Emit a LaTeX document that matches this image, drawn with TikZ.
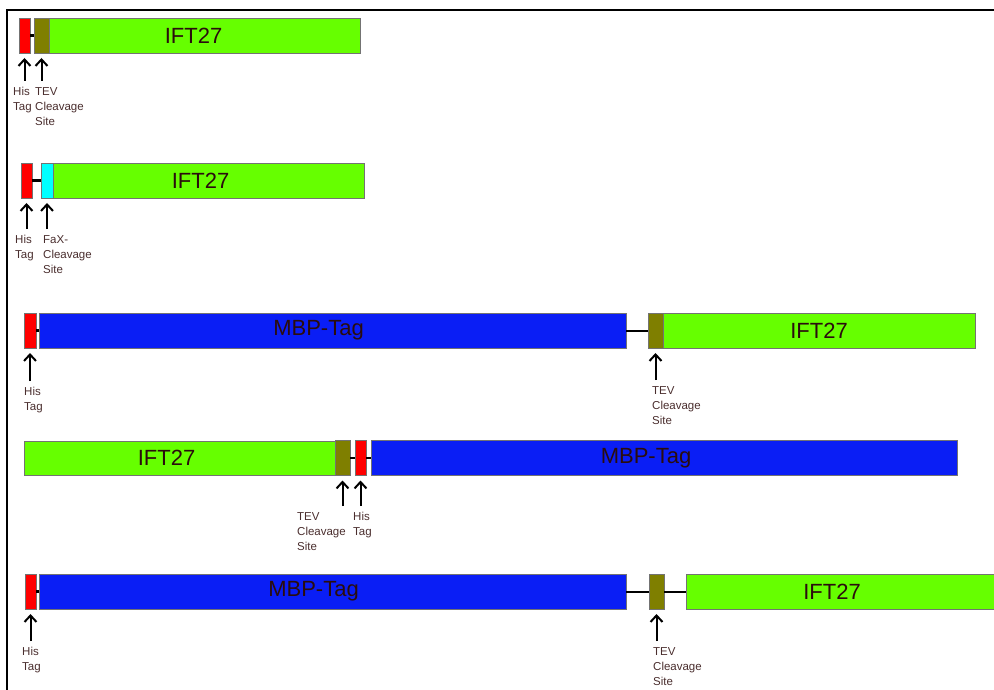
\documentclass[tikz,border=0pt]{standalone}
\usepackage{fontspec}
\setmainfont{Liberation Sans}
\usetikzlibrary{arrows.meta,positioning}
\definecolor{hisred}{HTML}{FF0000}
\definecolor{tevolive}{HTML}{7F7F00}
\definecolor{faxcyan}{HTML}{00FFFF}
\definecolor{iftgreen}{HTML}{66FF00}
\definecolor{mbpblue}{HTML}{0A1EF5}
\definecolor{bartext}{HTML}{2B0D0D}
\definecolor{sitetext}{HTML}{4A2E2E}

\tikzset{
  seg/.style={draw=black!55, line width=0.7pt, rectangle, inner sep=0pt, outer sep=0pt, minimum height=35pt},
  his/.style={seg, fill=hisred, minimum width=11pt},
  tev/.style={seg, fill=tevolive, minimum width=15pt},
  fax/.style={seg, fill=faxcyan, minimum width=12pt},
  ift/.style={seg, fill=iftgreen, minimum width=311pt},
  mbp/.style={seg, fill=mbpblue, minimum width=587pt},
  bartxt/.style={font=\fontsize{22}{26}\selectfont, text=bartext, inner sep=0pt},
  site/.style={font=\fontsize{11.5}{15}\selectfont, text=sitetext, align=left, anchor=north west, inner sep=0pt},
  linker/.style={line width=2.5pt},
  pointer/.style={-{Straight Barb[length=6.5pt,width=12pt]}, line width=2pt, shorten <=6pt, shorten >=5pt}
}

\begin{document}
\begin{tikzpicture}[x=1pt, y=-1pt]
  \clip (0,0) rectangle (994,690);
  % Frame
  \draw[line width=2pt] (6.5,690) -- (6.5,10.5) -- (994,10.5);

  % Construct 1: His - TEV - IFT27
  \node[his, anchor=north west] (his1) at (19,18) {};
  \node[tev, right=4pt of his1] (tev1) {};
  \node[ift, right=0pt of tev1, label={[bartxt, xshift=-11pt]center:IFT27}] (ift1) {};
  \draw[linker] (his1) -- (tev1);
  \node[site] (hl1) at (13,87) {His\\Tag};
  \node[site] (tl1) at (35,87) {TEV\\Cleavage\\Site};
  \draw[pointer] (hl1.north -| his1.south) -- (his1.south);
  \draw[pointer] (tl1.north -| tev1.south) -- (tev1.south);

  % Construct 2: His - FaX - IFT27
  \node[his, anchor=north west] (his2) at (21,163) {};
  \node[fax, right=9pt of his2] (fax2) {};
  \node[ift, right=0pt of fax2, label={[bartxt, xshift=-8pt]center:IFT27}] (ift2) {};
  \draw[linker] (his2) -- (fax2);
  \node[site] (hl2) at (15,235) {His\\Tag};
  \node[site] (fl2) at (43,235) {FaX-\\Cleavage\\Site};
  \draw[pointer] (hl2.north -| his2.south) -- (his2.south);
  \draw[pointer] (fl2.north -| fax2.south) -- (fax2.south);

  % Construct 3: His - MBP - TEV - IFT27
  \node[his, minimum width=12pt, anchor=north west] (his3) at (24,313) {};
  \node[mbp, right=3pt of his3, label={[bartxt, xshift=-14pt]center:MBP-Tag}] (mbp3) {};
  \node[tev, right=22pt of mbp3] (tev3) {};
  \node[ift, minimum width=312pt, right=0pt of tev3, label={[bartxt]center:IFT27}] (ift3) {};
  \draw[linker] (his3) -- (mbp3);
  \draw[line width=2pt] (mbp3) -- (tev3);
  \node[site] (hl3) at (24,387) {His\\Tag};
  \node[site] (tl3) at (652,386) {TEV\\Cleavage\\Site};
  \draw[pointer] (hl3.north -| his3.south) -- (his3.south);
  \draw[pointer] (tl3.north -| tev3.south) -- (tev3.south);

  % Construct 4: IFT27 - TEV - His - MBP
  \node[ift, minimum height=34pt, anchor=north west, label={[bartxt, xshift=-13pt]center:IFT27}] (ift4) at (24,441) {};
  \node[tev, right=0pt of ift4] (tev4) {};
  \node[his, right=5pt of tev4] (his4) {};
  \node[mbp, minimum width=586pt, right=5pt of his4, label={[bartxt, xshift=-18pt]center:MBP-Tag}] (mbp4) {};
  \draw[linker] (tev4) -- (his4);
  \draw[linker] (his4) -- (mbp4);
  \node[site] (tl4) at (297,512) {TEV\\Cleavage\\Site};
  \node[site] (hl4) at (353,512) {His\\Tag};
  \draw[pointer] (tl4.north -| tev4.south) -- (tev4.south);
  \draw[pointer] (hl4.north -| his4.south) -- (his4.south);

  % Construct 5: His - MBP - TEV - linker - IFT27
  \node[his, anchor=north west] (his5) at (25,574) {};
  \node[mbp, right=3pt of his5, label={[bartxt, xshift=-19pt]center:MBP-Tag}] (mbp5) {};
  \node[tev, right=23pt of mbp5] (tev5) {};
  \node[ift, minimum width=320pt, right=22pt of tev5, label={[bartxt, xshift=-14pt]center:IFT27}] (ift5) {};
  \draw[linker] (his5) -- (mbp5);
  \draw[line width=2pt] (mbp5) -- (tev5);
  \draw[line width=2pt] (tev5) -- (ift5);
  \node[site] (hl5) at (22,647) {His\\Tag};
  \node[site] (tl5) at (653,647) {TEV\\Cleavage\\Site};
  \draw[pointer] (hl5.north -| his5.south) -- (his5.south);
  \draw[pointer] (tl5.north -| tev5.south) -- (tev5.south);
\end{tikzpicture}
\end{document}
